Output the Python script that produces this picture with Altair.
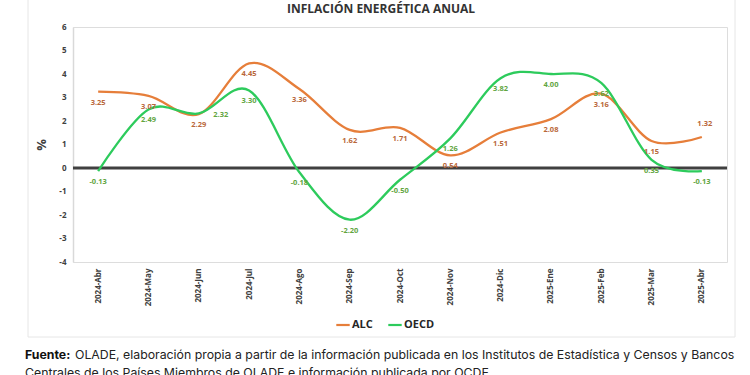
import altair as alt
import pandas as pd

months = ["2024-Abr", "2024-May", "2024-Jun", "2024-Jul", "2024-Ago", "2024-Sep", "2024-Oct",
          "2024-Nov", "2024-Dic", "2025-Ene", "2025-Feb", "2025-Mar", "2025-Abr"]
alc = [3.25, 3.07, 2.29, 4.45, 3.36, 1.62, 1.71, 0.54, 1.51, 2.08, 3.16, 1.15, 1.32]
oecd = [-0.13, 2.49, 2.32, 3.30, -0.18, -2.20, -0.50, 1.26, 3.82, 4.00, 3.62, 0.35, -0.13]
series_names = ["ALC", "OECD"]
y_ticks = [-4, -3, -2, -1, 0, 1, 2, 3, 4, 5, 6]
baseline_value = [0]

title_text = "INFLACIÓN ENERGÉTICA ANUAL"
source_bold = "Fuente:"
source_line1 = "OLADE, elaboración propia a partir de la información publicada en los Institutos de Estadística y Censos y Bancos"
source_line2 = "Centrales de los Países Miembros de OLADE e información publicada por OCDE"

ORANGE = "#E67E3A"
GREEN = "#2DCB5C"
ORANGE_LBL = "#B9673A"
GREEN_LBL = "#62A53F"

rows = []
for i, m in enumerate(months):
    rows.append({"mes": m, "serie": "ALC", "valor": alc[i], "idx": i})
    rows.append({"mes": m, "serie": "OECD", "valor": oecd[i], "idx": i})
df = pd.DataFrame(rows)

W, H = 654, 235
FONT = "Open Sans"

xenc = alt.X("mes:O", sort=months, scale=alt.Scale(type="point", padding=0.5),
             axis=alt.Axis(title=None, labelAngle=-90, labelAlign="right", labelBaseline="middle",
                           labelFontSize=8, labelFontWeight="bold", labelColor="#404040",
                           labelFont=FONT, domain=False, ticks=False, labelPadding=6))
yenc = alt.Y("valor:Q", scale=alt.Scale(domain=[-4, 6], nice=False),
             axis=alt.Axis(title="%", values=y_ticks, grid=False, ticks=False, domainColor="#D9D9D9",
                           domainWidth=1.5, labelFontSize=8, labelFontWeight="bold",
                           labelColor="#404040", labelFont=FONT, labelPadding=7,
                           labelOverlap=False,
                           labelExpr="(datum.value < 0 ? '-' : '') + abs(datum.value)",
                           titleFontSize=13, titleFontWeight="bold", titleColor="#404040",
                           titleFont=FONT, titlePadding=10))

base = alt.Chart(df).transform_calculate(
    lab="(datum.valor < 0 ? '-' : '') + format(abs(datum.valor), '.2f')")

zero = alt.Chart(pd.DataFrame({"valor": baseline_value})).mark_rule(
    color="#404040", strokeWidth=2.8).encode(y=yenc)

lines = base.mark_line(interpolate="cardinal", strokeWidth=2.3).encode(
    x=xenc, y=yenc,
    color=alt.Color("serie:N", scale=alt.Scale(domain=series_names, range=[ORANGE, GREEN]),
                    legend=alt.Legend(title=None, orient="none", legendX=262, legendY=290,
                                      direction="horizontal", symbolType="stroke",
                                      symbolStrokeWidth=2.2, symbolSize=180,
                                      labelFontSize=11, labelFontWeight="bold",
                                      labelColor="#262626", labelFont=FONT, columnPadding=10,
                                      labelOffset=1)),
    order="idx:Q")

def lbl(serie, color, cond, dx=0, dy=10):
    return base.transform_filter(
        (alt.datum.serie == serie) & cond
    ).mark_text(fontSize=7.5, fontWeight="bold", color=color, font=FONT, dx=dx, dy=dy,
                baseline="middle").encode(
        x=xenc, y=yenc, text="lab:N")

last = alt.datum.idx == 12
jun = alt.datum.idx == 2
labels = [
    lbl("ALC", ORANGE_LBL, ~last, dy=11),
    lbl("ALC", ORANGE_LBL, last, dx=3, dy=-13),
    lbl("OECD", GREEN_LBL, ~jun, dy=11),
    lbl("OECD", GREEN_LBL, jun, dx=22, dy=2),
]

one = pd.DataFrame({"a": [0]})
frame_left = alt.Chart(one).mark_rule(color="#E6E6E6", strokeWidth=1).encode(
    x=alt.value(-45), y=alt.value(-40), y2=alt.value(310))
frame_right = alt.Chart(one).mark_rule(color="#E6E6E6", strokeWidth=1).encode(
    x=alt.value(662), y=alt.value(-40), y2=alt.value(310))
frame_bottom = alt.Chart(one).mark_rule(color="#E6E6E6", strokeWidth=1).encode(
    x=alt.value(-45), x2=alt.value(662), y=alt.value(310))

title_mark = alt.Chart(pd.DataFrame({"t": [title_text]})).mark_text(
    fontSize=12, fontWeight="bold", font=FONT, color="#333333", align="center", baseline="alphabetic"
).encode(x=alt.value(308), y=alt.value(-14), text="t:N")

src_font = "Inter"
SRC = 12.3
src_b = alt.Chart(pd.DataFrame({"t": [source_bold]})).mark_text(
    fontSize=SRC, fontWeight="bold", font=src_font, color="#111111", align="left", baseline="alphabetic"
).encode(x=alt.value(-48), y=alt.value(332), text="t:N")
src_1 = alt.Chart(pd.DataFrame({"t": [source_line1]})).mark_text(
    fontSize=SRC, font=src_font, color="#222222", align="left", baseline="alphabetic"
).encode(x=alt.value(2), y=alt.value(332), text="t:N")
src_2 = alt.Chart(pd.DataFrame({"t": [source_line2]})).mark_text(
    fontSize=SRC, font=src_font, color="#222222", align="left", baseline="alphabetic"
).encode(x=alt.value(-48), y=alt.value(350), text="t:N")

chart = alt.layer(frame_left, frame_right, frame_bottom, zero, lines, *labels,
                  title_mark, src_b, src_1, src_2).properties(
    width=W, height=H,
    autosize=alt.AutoSizeParams(type="none"),
    padding={"left": 73, "top": 27, "right": 23, "bottom": 113},
).configure_view(stroke=None).configure(background="white")

chart.save("out.html", embed_options={"renderer": "svg", "actions": False})
